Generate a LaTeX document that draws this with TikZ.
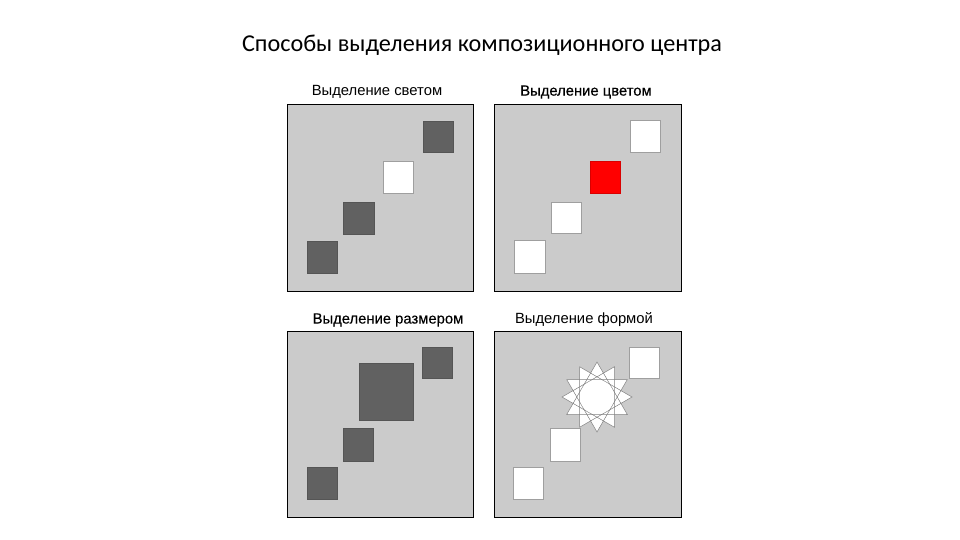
\documentclass[tikz,border=0pt]{standalone}
\usepackage{fontspec}
\setmainfont{Liberation Sans}
\newfontfamily\titlefont{Carlito}
\newfontfamily\heavyfont[FakeBold=0.5]{Liberation Sans}
\newfontfamily\semiheavyfont[FakeBold=0.2]{Liberation Sans}
\begin{document}
\begin{tikzpicture}[x=1pt,y=-1pt,
  panel/.style={draw=black,line width=0.9pt,fill=panelgray},
  darksq/.style={draw=darkedge,line width=0.8pt,fill=darkfill},
  whitesq/.style={draw=gray!75,line width=0.8pt,fill=white},
  redsq/.style={draw=red!85!black,line width=0.6pt,fill=red},
  lbl/.style={font=\fontsize{14.8}{16}\selectfont,anchor=center,inner sep=0pt},
  ttl/.style={font=\titlefont\fontsize{24.2}{28}\selectfont,anchor=center,inner sep=0pt}]
\definecolor{panelgray}{HTML}{CBCBCB}
\definecolor{darkfill}{HTML}{616161}
\definecolor{darkedge}{HTML}{555555}
\useasboundingbox (0,0) rectangle (960,540);
\fill[white] (0,0) rectangle (960,540);
\node[ttl] (title) at (482,45) {Способы выделения композиционного центра};
% panel 1
\node[lbl] (l1) at (377,92) {Выделение светом};
\path[panel] (287,104) rectangle (473,291);
\path[darksq] (423,121) rectangle (453,152);
\path[whitesq] (383,161) rectangle (413,193);
\path[darksq] (343,202) rectangle (374,234);
\path[darksq] (307,241) rectangle (337,273);
% panel 2
\node[lbl] (l2) at (586,92) {\heavyfont Выделение цветом};
\path[panel] (494,104) rectangle (681,291);
\path[whitesq] (630,120) rectangle (660,152);
\path[redsq] (590,161) rectangle (620,193);
\path[whitesq] (551,202) rectangle (581,233);
\path[whitesq] (514,240) rectangle (545,273);
% panel 3
\node[lbl] (l3) at (388,320) {\semiheavyfont Выделение размером};
\path[panel] (287,331) rectangle (473,517);
\path[darksq] (422,347) rectangle (452,378);
\path[darksq] (359,363) rectangle (413,420);
\path[darksq] (343,428) rectangle (373,461);
\path[darksq] (307,467) rectangle (337,499);
% panel 4
\node[lbl] (l4) at (584,320) {Выделение формой};
\path[panel] (494,331) rectangle (681,517);
\path[whitesq] (629,347) rectangle (659,378);
\path[whitesq] (550,428) rectangle (580,461);
\path[whitesq] (513,467) rectangle (543,499);
\begin{scope}[shift={(597,397)}]
  \foreach \k in {0,1,2,3}{
    \path[fill=white]
      ({35*cos(90+30*\k)},{-35*sin(90+30*\k)}) --
      ({35*cos(210+30*\k)},{-35*sin(210+30*\k)}) --
      ({35*cos(330+30*\k)},{-35*sin(330+30*\k)}) -- cycle;
  }
  \foreach \k in {0,1,2,3}{
    \draw[gray,line width=0.5pt]
      ({35*cos(90+30*\k)},{-35*sin(90+30*\k)}) --
      ({35*cos(210+30*\k)},{-35*sin(210+30*\k)}) --
      ({35*cos(330+30*\k)},{-35*sin(330+30*\k)}) -- cycle;
  }
  \fill[white] (0,0) circle (17);
\end{scope}
\end{tikzpicture}
\end{document}
